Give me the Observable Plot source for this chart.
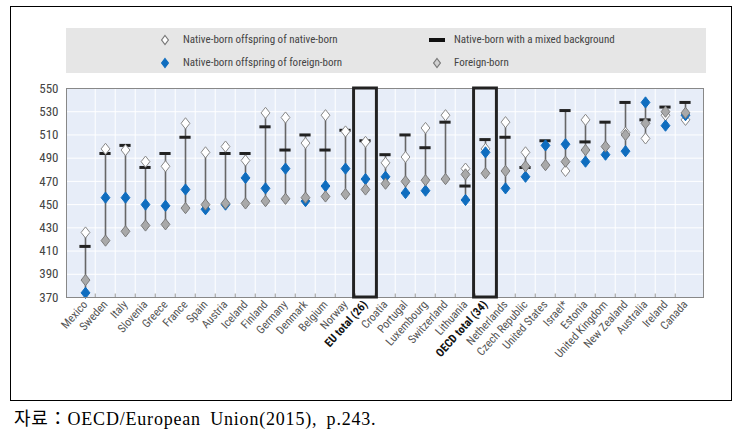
<!DOCTYPE html>
<html><head><meta charset="utf-8">
<script src="https://cdn.jsdelivr.net/npm/d3@7"></script>
<script src="https://cdn.jsdelivr.net/npm/@observablehq/plot@0.6"></script>
<style>
body{margin:0;background:#fff;width:744px;height:437px;position:relative;overflow:hidden;font-family:"Liberation Sans Narrow","Roboto Condensed","Liberation Sans",sans-serif;}
#frame{position:absolute;left:10px;top:6px;width:722px;height:395px;border:1.5px solid #000;box-sizing:border-box}
#legend{position:absolute;left:66px;top:28px;width:640px;height:45px;background:#e6e6e6;}
.item{position:absolute;font-size:11px;color:#444;white-space:nowrap;line-height:14px}
.sym{position:absolute}
#chart{position:absolute;left:0;top:0}
#caption{position:absolute;left:14px;top:404px;font-family:"Liberation Serif","Noto Sans CJK KR",serif;font-size:18px;color:#000;letter-spacing:0.8px;word-spacing:4px}
</style></head>
<body>
<div id="frame"></div>
<div id="legend"></div>
<div id="chart"></div>
<div id="caption">자료：OECD/European Union(2015), p.243.</div>
<script>
const countries = ["Mexico","Sweden","Italy","Slovenia","Greece","France","Spain","Austria","Iceland","Finland","Germany","Denmark","Belgium","Norway","EU total (26)","Croatia","Portugal","Luxembourg","Switzerland","Lithuania","OECD total (34)","Netherlands","Czech Republic","United States","Israel*","Estonia","United Kingdom","New Zealand","Australia","Ireland","Canada"];
const nativeOfNative = [426,498,497,487,483,520,495,500,488,529,525,503,527,513,504,486,491,516,527,481,498,521,495,null,479,523,null,512,507,527,523];
const mixedBackground = [414,494,501,482,494,508,null,494,494,517,497,510,497,514,505,493,510,499,521,466,506,508,482,505,531,504,521,538,523,534,538];
const nativeOfForeign = [374,456,456,450,449,463,446,450,473,464,481,453,466,481,472,474,460,462,null,454,495,464,474,501,502,487,493,496,538,518,527];
const foreignBorn = [385,419,427,432,433,447,450,451,451,453,455,456,457,459,463,468,470,471,472,476,477,479,483,484,487,497,500,510,520,530,529];
const yTicks = [370,390,410,430,450,470,490,510,530,550];
const boldLabels = ["EU total (26)","OECD total (34)"];
const legendLabels = ["Native-born offspring of native-born","Native-born offspring of foreign-born","Native-born with a mixed background","Foreign-born"];

const rows = countries.map((c,i)=>{
  const vals=[nativeOfNative[i],mixedBackground[i],nativeOfForeign[i],foreignBorn[i]].filter(v=>v!=null);
  return {country:c, nn:nativeOfNative[i], mixed:mixedBackground[i], nf:nativeOfForeign[i], fb:foreignBorn[i], lo:d3.min(vals), hi:d3.max(vals)};
});

const mL=66, mR=41, W=744;
const bw=(W-mL-mR)/countries.length;
const font='"Liberation Sans Narrow","Roboto Condensed","Liberation Sans",sans-serif';
const BLUE="#0f6dbf", GRAYF="#a9a9a9", GRAYS="#7a7a7a";
const rhomb = {draw(ctx){ const hw=4.4, hh=5.6; ctx.moveTo(0,-hh); ctx.lineTo(hw,0); ctx.lineTo(0,hh); ctx.lineTo(-hw,0); ctx.closePath(); }};

const chart = Plot.plot({
  width:W, height:400, marginLeft:mL, marginRight:mR, marginTop:88, marginBottom:103,
  style:{fontFamily:font, background:"transparent", overflow:"visible"},
  x:{domain:countries, padding:0, axis:null},
  y:{domain:[370,550], axis:null},
  marks:[
    Plot.frame({fill:"#e7edf8"}),
    Plot.gridY(yTicks,{stroke:"#fff", strokeOpacity:1, strokeWidth:1}),
    Plot.ruleX(countries.slice(1),{x:d=>d, dx:-bw/2, stroke:"#fff", strokeOpacity:1}),
    Plot.ruleX(countries.slice(1),{x:d=>d, dx:-bw/2, y1:370, y2:373, stroke:"#999"}),
    Plot.ruleX(rows,{x:"country", y1:"lo", y2:"hi", stroke:"#666", strokeWidth:1.6}),
    Plot.tickY(rows,{x:"country", y:"mixed", stroke:"#222", strokeWidth:3, insetLeft:4.4, insetRight:4.4}),
    Plot.dot(rows,{x:"country", y:"nn", symbol:rhomb, fill:"#fff", stroke:"#888", strokeWidth:1}),
    Plot.dot(rows,{x:"country", y:"nf", symbol:rhomb, fill:BLUE, stroke:BLUE, strokeWidth:1}),
    Plot.dot(rows,{x:"country", y:"fb", symbol:rhomb, fill:GRAYF, stroke:GRAYS, strokeWidth:1}),
    Plot.frame({stroke:"#888", strokeWidth:1}),
    Plot.barY(boldLabels,{x:d=>d, y1:370, y2:550, fill:"none", stroke:"#222", strokeWidth:3, insetLeft:-1.4, insetRight:-1.4}),
    Plot.axisY(yTicks,{tickSize:0, tickPadding:8, fontSize:13, fill:"#444", label:null}),
    Plot.axisX(countries.filter(c=>!boldLabels.includes(c)),{tickSize:0, tickPadding:5, tickRotate:-48, fontSize:11.5, fill:"#555", label:null}),
    Plot.axisX(boldLabels,{tickSize:0, tickPadding:5, tickRotate:-48, fontSize:11.5, fill:"#111", fontWeight:"bold", label:null})
  ]
});
document.getElementById("chart").appendChild(chart);

const lg=document.getElementById("legend");
const items=[
  {label:legendLabels[0], x:99, y:5, kind:"open"},
  {label:legendLabels[1], x:99, y:28, kind:"blue"},
  {label:legendLabels[2], x:371, y:5, kind:"bar"},
  {label:legendLabels[3], x:371, y:28, kind:"gray"}
];
for(const it of items){
  const s=document.createElementNS("http://www.w3.org/2000/svg","svg");
  s.setAttribute("width",20); s.setAttribute("height",14); s.setAttribute("class","sym");
  s.style.left=(it.x-10)+"px"; s.style.top=it.y+"px";
  const g=d3.select(s);
  if(it.kind==="bar"){
    g.append("rect").attr("x",2).attr("y",5).attr("width",16).attr("height",4).attr("fill","#111");
  } else {
    const fill= it.kind==="open"?"#fff": it.kind==="blue"?BLUE:"#d0d0d0";
    const stroke= it.kind==="open"?"#777": it.kind==="blue"?BLUE:"#777";
    g.append("path").attr("transform","translate(10,7)").attr("d","M0,-4.5L3.4,0L0,4.5L-3.4,0Z").attr("fill",fill).attr("stroke",stroke).attr("stroke-width",1.2);
  }
  lg.appendChild(s);
  const t=document.createElement("div");
  t.className="item"; t.textContent=it.label;
  t.style.left=(it.x+ (it.kind==="bar"||it.kind==="gray"?17:18))+"px"; t.style.top=it.y+"px";
  lg.appendChild(t);
}
</script>
</body></html>
